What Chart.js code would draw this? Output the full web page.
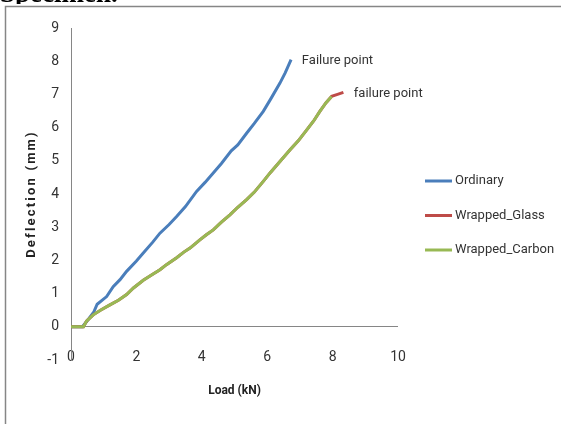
<!DOCTYPE html>
<html>
<head>
<meta charset="utf-8">
<script src="https://cdn.jsdelivr.net/npm/chart.js@4.4.1/dist/chart.umd.min.js"></script>
<style>
  html, body { margin: 0; padding: 0; background: #fff; }
  #wrap { position: relative; width: 561px; height: 424px; }
</style>
</head>
<body>
<div id="wrap"><canvas id="loadChart" width="561" height="424"></canvas></div>
<script>
// values
const pageTitle = 'Specimen.';
const xTitle = 'Load (kN)';
const yTitle = 'Deflection (mm)';
const seriesNames = ['Ordinary', 'Wrapped_Glass', 'Wrapped_Carbon'];
const seriesColors = ['#4A7EBB', '#BE4B48', '#98B954'];

const ordinaryLoad = [0, 0.35, 0.55, 0.7, 0.8, 1.09, 1.29, 1.5, 1.7, 2.0, 2.21, 2.5, 2.72, 3.0, 3.23, 3.5, 3.84, 4.1, 4.35, 4.6, 4.9, 5.1, 5.37, 5.6, 5.88, 6.1, 6.39, 6.55, 6.73];
const ordinaryDefl = [0, 0, 0.25, 0.45, 0.68, 0.91, 1.21, 1.42, 1.67, 1.98, 2.22, 2.55, 2.82, 3.08, 3.32, 3.62, 4.08, 4.35, 4.63, 4.92, 5.3, 5.48, 5.83, 6.12, 6.49, 6.85, 7.34, 7.65, 8.05];

const glassLoad = [0, 0.38, 0.48, 0.68, 0.9, 1.19, 1.45, 1.7, 1.91, 2.21, 2.45, 2.72, 2.93, 3.23, 3.45, 3.64, 3.94, 4.15, 4.35, 4.6, 4.86, 5.1, 5.37, 5.6, 5.88, 6.1, 6.39, 6.7, 6.95, 7.21, 7.42, 7.61, 7.8, 7.97, 8.15, 8.33];
const glassDefl = [0, 0, 0.18, 0.36, 0.5, 0.66, 0.8, 0.97, 1.17, 1.4, 1.55, 1.72, 1.88, 2.08, 2.25, 2.37, 2.62, 2.78, 2.92, 3.15, 3.37, 3.6, 3.83, 4.05, 4.38, 4.65, 4.98, 5.33, 5.6, 5.93, 6.2, 6.49, 6.75, 6.94, 7.0, 7.06];

const carbonLoad = [0, 0.38, 0.48, 0.68, 0.9, 1.19, 1.45, 1.7, 1.91, 2.21, 2.45, 2.72, 2.93, 3.23, 3.45, 3.64, 3.94, 4.15, 4.35, 4.6, 4.86, 5.1, 5.37, 5.6, 5.88, 6.1, 6.39, 6.7, 6.95, 7.21, 7.42, 7.61, 7.8, 7.97];
const carbonDefl = [0, 0, 0.18, 0.36, 0.5, 0.66, 0.8, 0.97, 1.17, 1.4, 1.55, 1.72, 1.88, 2.08, 2.25, 2.37, 2.62, 2.78, 2.92, 3.15, 3.37, 3.6, 3.83, 4.05, 4.38, 4.65, 4.98, 5.33, 5.6, 5.93, 6.2, 6.49, 6.75, 6.94];

// text notes next to the ends of the curves: [text, load, deflection]
const notes = [
    ['Failure point', 7.06, 8.01],
    ['failure point', 8.65, 7.02]
];

const xTicks = [0, 2, 4, 6, 8, 10];
const yMin = -1, yMax = 9;

const sans = 'Roboto, "Liberation Sans", sans-serif';

function toPoints(xs, ys) {
    return xs.map((x, i) => ({ x: x, y: ys[i] }));
}

// frame, cut title, y title, notes and legend
const decorPlugin = {
    id: 'decor',
    afterDraw(chart) {
        const ctx = chart.ctx;
        const xs = chart.scales.x, ys = chart.scales.y;
        ctx.save();

        // page title, only its lower edge is visible
        ctx.save();
        ctx.beginPath();
        ctx.rect(0, 0, 561, 4);
        ctx.clip();
        ctx.fillStyle = '#000';
        ctx.font = 'bold 27px "Liberation Serif", "DejaVu Serif", serif';
        ctx.textBaseline = 'alphabetic';
        ctx.fillText(pageTitle, 0, 1.5);
        ctx.restore();

        // chart frame
        ctx.strokeStyle = '#868686';
        ctx.lineWidth = 1.5;
        ctx.beginPath();
        ctx.moveTo(561, 6.5);
        ctx.lineTo(5.5, 6.5);
        ctx.lineTo(5.5, 424);
        ctx.stroke();

        // y axis title
        ctx.save();
        ctx.translate(32, (chart.chartArea.top + chart.chartArea.bottom) / 2);
        ctx.rotate(-Math.PI / 2);
        ctx.font = 'bold 13px ' + sans;
        ctx.letterSpacing = '2.2px';
        ctx.fillStyle = '#222';
        ctx.textAlign = 'center';
        ctx.textBaseline = 'middle';
        ctx.fillText(yTitle, 0, 0);
        ctx.restore();

        // notes
        ctx.font = '13px ' + sans;
        ctx.fillStyle = '#333';
        ctx.textAlign = 'left';
        ctx.textBaseline = 'middle';
        notes.forEach(n => {
            ctx.fillText(n[0], xs.getPixelForValue(n[1]), ys.getPixelForValue(n[2]));
        });

        // legend
        const legendTop = 181, legendGap = 34.5;
        chart.data.datasets.forEach((ds, i) => {
            const y = legendTop + i * legendGap;
            ctx.strokeStyle = ds.borderColor;
            ctx.lineWidth = 3;
            ctx.beginPath();
            ctx.moveTo(425, y);
            ctx.lineTo(452, y);
            ctx.stroke();
            ctx.fillStyle = '#333';
            ctx.fillText(ds.label, 455, y);
        });

        ctx.restore();
    }
};

const datasets = [
    { label: seriesNames[0], data: toPoints(ordinaryLoad, ordinaryDefl), borderColor: seriesColors[0], order: 2 },
    { label: seriesNames[1], data: toPoints(glassLoad, glassDefl), borderColor: seriesColors[1], order: 1 },
    { label: seriesNames[2], data: toPoints(carbonLoad, carbonDefl), borderColor: seriesColors[2], order: 0 }
].map(d => Object.assign(d, {
    backgroundColor: d.borderColor,
    borderWidth: 3,
    pointRadius: 0,
    tension: 0,
    fill: false
}));

new Chart(document.getElementById('loadChart'), {
    type: 'line',
    data: { datasets: datasets },
    options: {
        responsive: false,
        animation: false,
        events: [],
        layout: { padding: { left: 0, right: 163, top: 28, bottom: 0 } },
        plugins: {
            legend: { display: false },
            tooltip: { enabled: false }
        },
        scales: {
            x: {
                type: 'linear',
                min: 0,
                max: 10,
                afterFit: s => { s.height = 64; },
                afterBuildTicks: s => { s.ticks = xTicks.map(v => ({ value: v })); },
                grid: { display: false, drawTicks: false },
                border: { display: false },
                ticks: {
                    mirror: true,
                    padding: -6,
                    color: '#333',
                    font: { family: sans, size: 14 }
                },
                title: {
                    display: true,
                    text: xTitle,
                    color: '#222',
                    font: { family: sans, size: 12, weight: 'bold' },
                    padding: { top: 0, bottom: 26 }
                }
            },
            y: {
                min: yMin,
                max: yMax,
                afterFit: s => { s.width = 71; },
                ticks: {
                    stepSize: 1,
                    padding: 12,
                    color: '#333',
                    font: { family: sans, size: 14 }
                },
                grid: {
                    drawTicks: false,
                    color: c => (c.tick && c.tick.value === 0 ? '#868686' : 'rgba(0,0,0,0)'),
                    lineWidth: 1
                },
                border: { display: true, color: '#868686', width: 1 }
            }
        }
    },
    plugins: [decorPlugin]
});
</script>
</body>
</html>
